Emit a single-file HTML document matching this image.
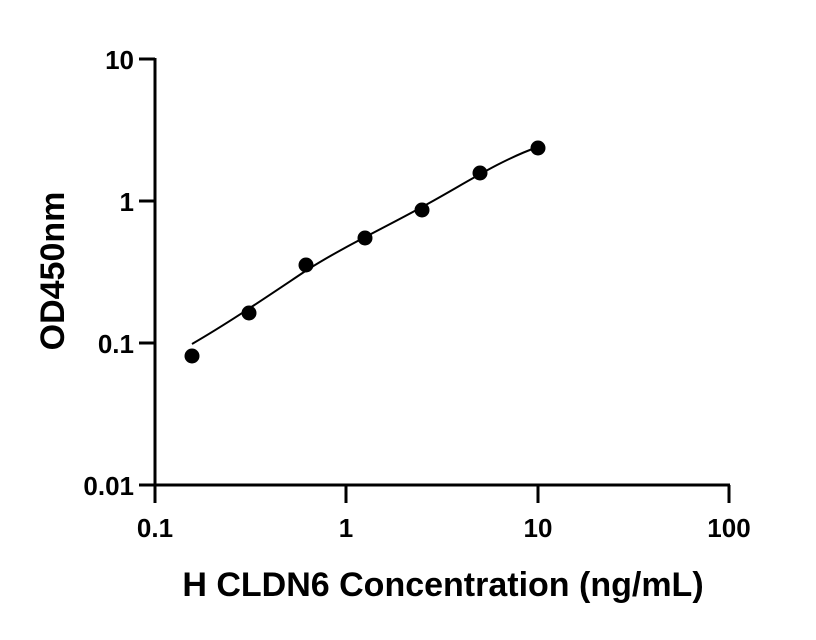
<!DOCTYPE html>
<html><head><style>
html,body{margin:0;padding:0;background:#fff;}
svg{display:block;}
text{font-family:"Liberation Sans",Arial,sans-serif;font-weight:bold;fill:#000;}
</style></head><body>
<svg width="816" height="640" viewBox="0 0 816 640" xmlns="http://www.w3.org/2000/svg">
<g stroke="#000" stroke-width="3" fill="none">
<line x1="155" y1="58" x2="155" y2="486"/>
<line x1="139" y1="59" x2="155" y2="59"/>
<line x1="139" y1="201" x2="155" y2="201"/>
<line x1="139" y1="343" x2="155" y2="343"/>
<line x1="139" y1="485" x2="730" y2="485"/>
<line x1="155" y1="485" x2="155" y2="503"/>
<line x1="346" y1="485" x2="346" y2="503"/>
<line x1="538" y1="485" x2="538" y2="503"/>
<line x1="729" y1="485" x2="729" y2="503"/>
</g>
<path d="M192,344 C230,322 268,296 307,270 C345,246 384,228 422,207 C461,186 500,160 538,147" stroke="#000" stroke-width="2" fill="none"/>
<g fill="#000">
<circle cx="192" cy="356" r="7.5"/>
<circle cx="249" cy="313" r="7.5"/>
<circle cx="306" cy="265" r="7.5"/>
<circle cx="365" cy="238" r="7.5"/>
<circle cx="422" cy="210" r="7.5"/>
<circle cx="480" cy="173" r="7.5"/>
<circle cx="538" cy="148" r="7.5"/>
</g>
<g font-size="26" text-anchor="end">
<text x="134" y="69">10</text>
<text x="134" y="211">1</text>
<text x="134" y="353">0.1</text>
<text x="134" y="495">0.01</text>
</g>
<g font-size="26" text-anchor="middle">
<text x="155" y="537">0.1</text>
<text x="346" y="537">1</text>
<text x="538" y="537">10</text>
<text x="729" y="537">100</text>
</g>
<text x="443" y="596" font-size="34" text-anchor="middle">H CLDN6 Concentration (ng/mL)</text>
<text transform="translate(64,271) rotate(-90)" font-size="34" text-anchor="middle">OD450nm</text>
</svg>
</body></html>
